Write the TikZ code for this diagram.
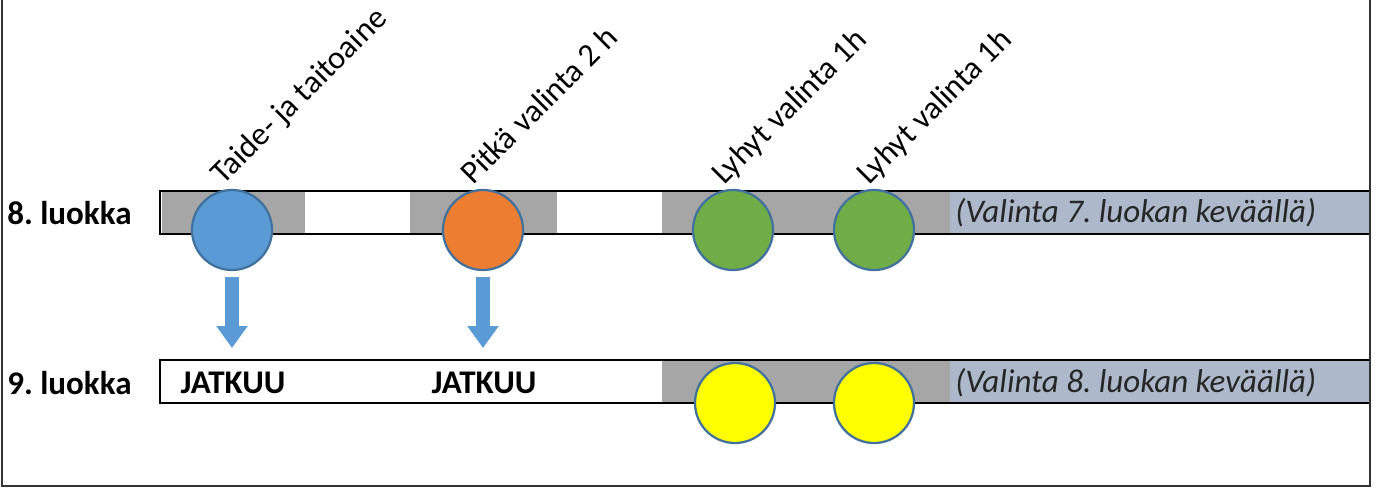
\documentclass[tikz,border=0pt]{standalone}
\usepackage{fontspec}
\setmainfont{Carlito}
\usetikzlibrary{arrows.meta}
\definecolor{harmaa}{HTML}{A6A6A6}
\definecolor{siniharmaa}{HTML}{ADB9CA}
\definecolor{sininen}{HTML}{5B9BD5}
\definecolor{oranssi}{HTML}{ED7D31}
\definecolor{vihrea}{HTML}{70AD47}
\definecolor{keltainen}{HTML}{FFFF00}
\definecolor{reuna}{HTML}{41719C}
\frenchspacing
\tikzset{
   palkki/.style={draw=black, line width=1.6pt},
   kurssi/.style={circle, draw=reuna, line width=1.6pt, minimum size=2cm, inner sep=0pt},
   luokka/.style={font=\fontsize{23.5}{28}\selectfont\bfseries, anchor=west, inner sep=0pt},
   huomio/.style={font=\fontsize{23.5}{28}\selectfont\itshape, text=black!85, anchor=west, inner sep=0pt},
   otsikko/.style={font=\fontsize{23}{28}\selectfont, rotate=45, anchor=base west, inner sep=0pt},
   nuoli/.style={draw=sininen, line width=0.35cm, shorten <=0.15cm,
      -{Triangle[width=0.75cm, length=0.55cm]}}
}
\begin{document}
\begin{tikzpicture}[x=0.025cm, y=-0.025cm]
   \useasboundingbox (0,0) rectangle (1378,488);
   \def \Blocks {
      162/305/191/harmaa,
      305/410/191/white,
      410/557/191/harmaa,
      557/662/191/white,
      662/950/191/harmaa,
      950/1370/191/siniharmaa,
      662/950/360/harmaa,
      950/1370/360/siniharmaa}
   \foreach \a / \b / \y / \c in \Blocks {
      \fill[\c] (\a, \y) rectangle (\b, \y+43);
   }
   \draw[palkki] (160,191) rectangle (1370,234);
   \draw[palkki] (160,360) rectangle (1370,403);
   \draw[line width=1.2pt, black!80] (2,0) -- (2,486) -- (1370,486) -- (1370,0);
   \node[luokka] (r8) at (7,213) {8. luokka};
   \node[luokka] (r9) at (7,383) {9. luokka};
   \node[huomio] (h8) at (955,213) {(Valinta 7. luokan keväällä)};
   \node[huomio] (h9) at (955,383) {(Valinta 8. luokan keväällä)};
   \def \Courses {
      1/232/230/sininen,
      2/483/230/oranssi,
      3/733/230/vihrea,
      4/874/230/vihrea,
      5/735/403/keltainen,
      6/874/403/keltainen}
   \foreach \u / \x / \y / \c in \Courses {
      \node[kurssi, fill=\c] (\u) at (\x, \y) {};
   }
   \def \Titles {
      1/223/Taide- ja taitoaine,
      2/473/Pitkä valinta 2 h,
      3/724/Lyhyt valinta 1h,
      4/869/Lyhyt valinta 1h}
   \foreach \u / \x / \t in \Titles {
      \node[otsikko] (t\u) at (\x, 186) {\t};
   }
   \foreach \u / \x in {1/232, 2/483} {
      \node[luokka, anchor=center] (j\u) at (\x+1, 383) {JATKUU};
      \coordinate (a\u) at (\x, 348);
      \draw[nuoli] (\u) -- (a\u);
   }
\end{tikzpicture}
\end{document}
